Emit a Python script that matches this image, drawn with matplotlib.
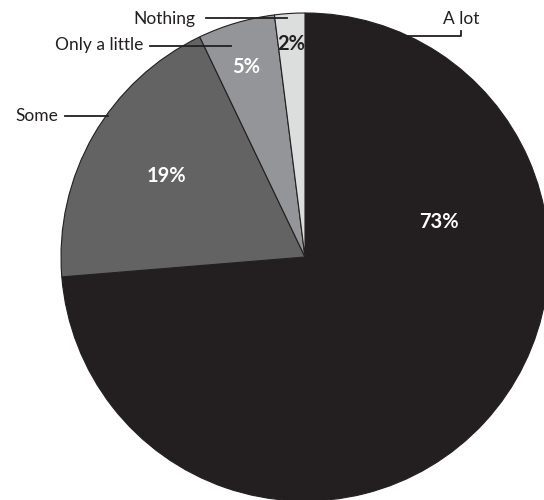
import matplotlib.pyplot as plt

labels = ['A lot', 'Some', 'Only a little', 'Nothing']
values = [73.7, 19.2, 5.1, 2.0]
pct_text = ['73%', '19%', '5%', '2%']
colors = ['#231f20', '#636363', '#939598', '#dcdddd']
pct_colors = ['white', 'white', 'white', '#231f20']

plt.rcParams['font.family'] = ['Lato', 'DejaVu Sans']

fig = plt.figure(figsize=(5.44, 5.00), dpi=100)
ax = fig.add_axes([0, 0, 1, 1])

# pie in pixel space (y up)
cx, cy, r = 305, 243, 244
wedges, _ = ax.pie(values, colors=colors, startangle=90, counterclock=False,
                   center=(cx, cy), radius=r, frame=True,
                   wedgeprops=dict(edgecolor='#231f20', linewidth=0.8))
ax.set_xlim(0, 544)
ax.set_ylim(0, 500)
ax.set_aspect('equal')
ax.axis('off')

# percentage labels
pct_pos = [(439, 278), (166, 324), (246, 433), (291, 456)]
for t, c, (x, y) in zip(pct_text, pct_colors, pct_pos):
    ax.text(x, y, t, color=c, fontsize=14.5, fontweight='bold', ha='center', va='center')

# category labels with leader lines
lw = 1.3
fs = 12.5
ax.text(195, 481, 'Nothing', fontsize=fs, ha='right', va='center', color='#231f20')
ax.plot([206, 287], [482, 482], color='#231f20', lw=lw)
ax.text(143, 455, 'Only a little', fontsize=fs, ha='right', va='center', color='#231f20')
ax.plot([150, 231], [454, 454], color='#231f20', lw=lw)
ax.text(58, 384, 'Some', fontsize=fs, ha='right', va='center', color='#231f20')
ax.plot([65, 108], [384, 384], color='#231f20', lw=lw)
ax.text(461, 481, 'A lot', fontsize=fs, ha='center', va='center', color='#231f20')
ax.plot([407, 461, 461], [464, 464, 469], color='#231f20', lw=lw)

fig.savefig('out.png', dpi=100)
